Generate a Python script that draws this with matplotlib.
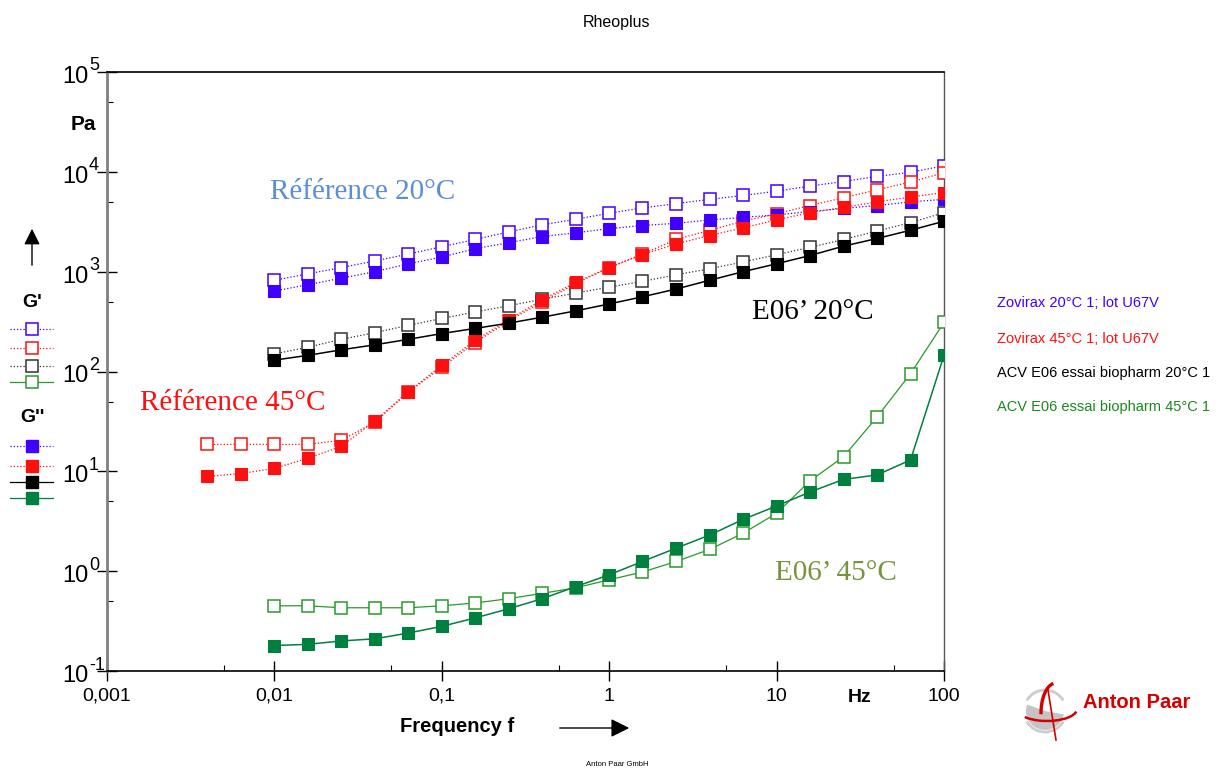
import numpy as np
import matplotlib.pyplot as plt
from matplotlib.ticker import FixedLocator, NullFormatter
from matplotlib.lines import Line2D
from matplotlib.patches import Arc, Wedge, FancyArrowPatch
from matplotlib.transforms import blended_transform_factory, offset_copy

plt.rcParams['font.family'] = 'Liberation Sans'

# ------------------------------------------------------------
# data
# ------------------------------------------------------------
freq = [0.01, 0.0158, 0.0251, 0.0398, 0.0631, 0.1, 0.158, 0.251, 0.398, 0.631,
        1, 1.58, 2.51, 3.98, 6.31, 10, 15.8, 25.1, 39.8, 63.1, 100]
freq_45 = [0.00398, 0.00631] + freq

zov20_gp = [820, 950, 1100, 1280, 1500, 1780, 2100, 2500, 2950, 3350, 3850,
            4350, 4800, 5300, 5800, 6400, 7200, 8000, 9000, 9900, 11500]
zov20_gpp = [640, 740, 860, 1000, 1200, 1400, 1700, 1950, 2250, 2450, 2700,
             2900, 3050, 3300, 3500, 3700, 4000, 4300, 4600, 5000, 5300]

zov45_gp = [18.6, 18.6, 18.6, 18.6, 20.5, 31, 62, 110, 195, 320, 500, 760, 1100,
            1500, 2100, 2600, 3200, 3800, 4600, 5500, 6600, 7900, 9800]
zov45_gpp = [8.9, 9.5, 10.7, 13.5, 17.8, 32, 63, 115, 205, 330, 525, 780, 1100,
             1480, 1900, 2300, 2750, 3300, 3900, 4400, 5000, 5600, 6200]

e06_20_gp = [150, 175, 210, 245, 290, 340, 395, 455, 530, 610, 700,
             800, 930, 1070, 1250, 1480, 1750, 2100, 2550, 3100, 3900]
e06_20_gpp = [130, 145, 165, 185, 210, 240, 270, 305, 350, 405, 475,
              560, 670, 820, 1000, 1200, 1450, 1800, 2150, 2600, 3200]

e06_45_gp = [0.45, 0.45, 0.43, 0.43, 0.43, 0.45, 0.48, 0.53, 0.6, 0.68, 0.82,
             0.98, 1.25, 1.65, 2.4, 3.8, 8.0, 14, 35, 95, 310]
e06_45_gpp = [0.18, 0.185, 0.2, 0.21, 0.24, 0.28, 0.34, 0.42, 0.53, 0.7, 0.92,
              1.25, 1.7, 2.3, 3.3, 4.5, 6.2, 8.3, 9.2, 13, 145]

names = ['Zovirax 20°C 1; lot U67V', 'Zovirax 45°C 1; lot U67V',
         'ACV E06 essai biopharm 20°C 1', 'ACV E06 essai biopharm 45°C 1']

x_ticks = [0.001, 0.01, 0.1, 1, 10, 100]
x_ticklabels = ['0,001', '0,01', '0,1', '1', '10', '100']
y_exponents = [-1, 0, 1, 2, 3, 4, 5]

# ------------------------------------------------------------
# styles
# ------------------------------------------------------------
BLUE = '#4000ff'
RED = '#ff1010'
BLACK = '#000000'
GREEN = '#00803f'
GREEN_O = '#2a9a2a'
DOT = (0, (1, 1.6))

W, H = 1223, 771
fig = plt.figure(figsize=(W / 100, H / 100), dpi=100)

def fx(px):
    return px / W

def fy(py):
    return 1 - py / H

ax = fig.add_axes([fx(107), fy(671), fx(944) - fx(107), fy(72) - fy(671)])
ax.set_xscale('log')
ax.set_yscale('log')
ax.set_xlim(0.001, 100)
ax.set_ylim(0.1, 1e5)

ms = 9
series = [
    (freq, zov20_gp, zov20_gpp, BLUE, BLUE, DOT, DOT, BLUE),
    (freq_45, zov45_gp, zov45_gpp, RED, RED, DOT, DOT, RED),
    (freq, e06_20_gp, e06_20_gpp, '#333333', BLACK, DOT, '-', BLACK),
    (freq, e06_45_gp, e06_45_gpp, GREEN_O, GREEN, '-', '-', GREEN),
]

# G' (open) first, then G'' (filled)
for f, gp, gpp, c_open, c_fill, ls_o, ls_f, c_fillline in series:
    ax.plot(f, gp, color=c_open, ls=ls_o, lw=0.9, marker='s', ms=ms,
            mfc='white', mec=c_open, mew=1.1, zorder=3)
for f, gp, gpp, c_open, c_fill, ls_o, ls_f, c_fillline in series:
    ax.plot(f, gpp, color=c_fillline, ls=ls_f, lw=0.9 if ls_f == DOT else 1.1,
            marker='s', ms=ms, mfc=c_fill, mec=c_fill, mew=0.8, zorder=4)

# axes frame
ax.spines['left'].set_color('#808080')
ax.spines['left'].set_linewidth(2)
ax.spines['right'].set_color('#555555')
ax.spines['right'].set_linewidth(1)
ax.spines['top'].set_linewidth(1.2)
ax.spines['bottom'].set_linewidth(1.2)

ax.xaxis.set_major_locator(FixedLocator(x_ticks))
ax.xaxis.set_minor_locator(FixedLocator([0.005, 0.05, 0.5, 5, 50]))
ax.set_xticklabels(x_ticklabels)
ax.yaxis.set_major_locator(FixedLocator([10.0 ** e for e in y_exponents]))
ax.yaxis.set_minor_locator(FixedLocator([0.5, 5, 50, 500, 5e3, 5e4]))
ax.yaxis.set_major_formatter(NullFormatter())
ax.xaxis.set_minor_formatter(NullFormatter())
ax.yaxis.set_minor_formatter(NullFormatter())
ax.tick_params(which='major', direction='inout', length=14, width=1, pad=5)
ax.tick_params(which='minor', direction='in', length=4, width=0.8)
ax.tick_params(axis='x', labelsize=14)

# y labels "10" with a large exponent, like Rheoplus draws them
ytr = blended_transform_factory(ax.transAxes, ax.transData)
base_tr = offset_copy(ytr, fig=fig, x=-19, y=-5, units='dots')
exp_tr = offset_copy(ytr, fig=fig, x=-18, y=6, units='dots')
for e in y_exponents:
    ax.text(0, 10.0 ** e, '10', transform=base_tr, fontsize=17,
            ha='right', va='center', clip_on=False)
    ax.text(0, 10.0 ** e, str(e), transform=exp_tr, fontsize=13,
            ha='left', va='center', clip_on=False)

# annotations inside plot
fig.text(fx(270), fy(192), 'Référence 20°C', family='Liberation Serif',
         fontsize=21, color='#5b8ed6', va='center')
fig.text(fx(140), fy(403), 'Référence 45°C', family='Liberation Serif',
         fontsize=21, color='#ff1010', va='center')
fig.text(fx(752), fy(312), 'E06’ 20°C', family='Liberation Serif',
         fontsize=21, color='black', va='center')
fig.text(fx(775), fy(573), 'E06’ 45°C', family='Liberation Serif',
         fontsize=21, color='#77933c', va='center')

# axis captions
fig.text(fx(83), fy(124), 'Pa', fontsize=15, fontweight='bold', ha='center', va='center')
fig.text(fx(860), fy(697), 'Hz', fontsize=14, fontweight='bold', ha='center', va='center')
fig.text(fx(400), fy(727), 'Frequency f', fontsize=14.5, fontweight='bold', va='center')
fig.add_artist(FancyArrowPatch((fx(557), fy(728)), (fx(632), fy(728)),
                               transform=fig.transFigure, arrowstyle='-|>',
                               mutation_scale=28, lw=1, color='black'))
fig.add_artist(FancyArrowPatch((fx(32), fy(268)), (fx(32), fy(226)),
                               transform=fig.transFigure, arrowstyle='-|>',
                               mutation_scale=24, lw=1, color='black'))

fig.text(fx(617), fy(22), 'Rheoplus', fontsize=11.5, ha='center', va='center')
fig.text(fx(617), fy(765), 'Anton Paar GmbH', fontsize=5.5, ha='center', va='center')

# left legend (G', G'')
fig.text(fx(32), fy(303), "G'", fontsize=14, fontweight='bold', ha='center', va='center')
fig.text(fx(32), fy(418), "G''", fontsize=14, fontweight='bold', ha='center', va='center')
leg_gp_y = [329, 348, 366, 382]
leg_gpp_y = [446, 466, 482, 498]
for (f, gp, gpp, c_open, c_fill, ls_o, ls_f, c_fillline), y1, y2 in zip(series, leg_gp_y, leg_gpp_y):
    fig.add_artist(Line2D([fx(10), fx(53)], [fy(y1), fy(y1)], color=c_open, ls=ls_o, lw=0.9))
    fig.add_artist(Line2D([fx(32)], [fy(y1)], marker='s', ms=ms, mfc='white',
                          mec=c_open, mew=1.1, ls='none'))
    fig.add_artist(Line2D([fx(10), fx(53)], [fy(y2), fy(y2)], color=c_fillline, ls=ls_f, lw=0.9))
    fig.add_artist(Line2D([fx(32)], [fy(y2)], marker='s', ms=ms, mfc=c_fill,
                          mec=c_fill, ls='none'))

# right legend (sample names)
name_cols = [BLUE, RED, BLACK, '#1a8a1a']
for nm, col, y in zip(names, name_cols, [303, 339, 373, 407]):
    fig.text(fx(997), fy(y), nm, fontsize=10.5, color=col, va='center')

# Anton Paar logo
fig.text(fx(1083), fy(703), 'Anton Paar', fontsize=14.5, fontweight='bold',
         color='#d40000', va='center')
lax = fig.add_axes([fx(1012), fy(742), fx(1078) - fx(1012), fy(676) - fy(742)])
lax.set_xlim(-1.65, 1.65)
lax.set_ylim(-1.65, 1.65)
lax.set_aspect('equal')
lax.axis('off')
lax.add_patch(Wedge((0.0, -0.1), 0.95, 160, 350, color='#c4c4c4', lw=0))
lax.add_patch(Arc((0.0, -0.1), 2.1, 2.1, theta1=30, theta2=150, color='#cccccc', lw=2))
lax.add_patch(Arc((0.0, -0.1), 2.1, 2.1, theta1=210, theta2=330, color='#cccccc', lw=2))
lax.add_patch(Arc((0.55, -0.2), 1.5, 3.0, theta1=95, theta2=185, color='#d40000', lw=2.4))
lax.plot([0.15, 0.55], [0.95, -1.55], color='#d40000', lw=1.2)
lax.add_patch(Arc((0.1, 0.0), 3.0, 1.2, theta1=200, theta2=355, color='#d40000', lw=1.8))

fig.savefig('out.png', dpi=100)
